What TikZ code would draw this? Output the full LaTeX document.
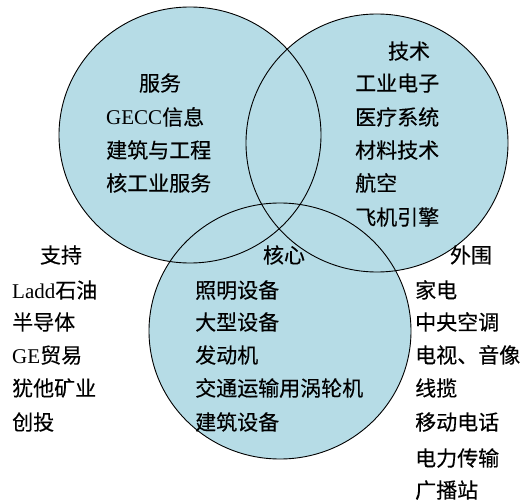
\documentclass[tikz,border=0pt]{standalone}
\usepackage{fontspec}
\setmainfont{Liberation Serif}
\newfontfamily\cjk[FakeBold=0.3]{Noto Sans CJK SC}
\definecolor{vennfill}{RGB}{182,220,230}
\begin{document}
\begin{tikzpicture}[x=1pt,y=-1pt,
  lbl/.style={anchor=base west, inner sep=0pt, font=\cjk\fontsize{21}{21}\selectfont},
  head/.style={anchor=base, inner sep=0pt, font=\cjk\fontsize{21}{21}\selectfont},
  ring/.style={draw=black, line width=0.9pt}]
\useasboundingbox (0,0) rectangle (526,502);
% fills
\fill[vennfill] (190,135) ellipse [x radius=131, y radius=128];
\fill[vennfill] (377,143) ellipse [x radius=131, y radius=129];
\fill[vennfill] (280,331) ellipse [x radius=131, y radius=128];
% outlines
\draw[ring] (190,135) ellipse [x radius=131, y radius=128];
\draw[ring] (377,143) ellipse [x radius=131, y radius=129];
\draw[ring] (280,331) ellipse [x radius=131, y radius=128];
% service
\node[head] (fw) at (160,91) {服务};
\node[lbl] (fw1) at (106,125) {{\rmfamily GECC}信息};
\node[lbl] (fw2) at (106,158) {建筑与工程};
\node[lbl] (fw3) at (106,191) {核工业服务};
% technology
\node[head] (js) at (409,59) {技术};
\node[lbl] (js1) at (355,91) {工业电子};
\node[lbl] (js2) at (355,125) {医疗系统};
\node[lbl] (js3) at (355,158) {材料技术};
\node[lbl] (js4) at (355,191) {航空};
\node[lbl] (js5) at (355,225) {飞机引擎};
% core
\node[head] (hx) at (284,263) {核心};
\node[lbl] (hx1) at (195,298) {照明设备};
\node[lbl] (hx2) at (195,330) {大型设备};
\node[lbl] (hx3) at (195,363) {发动机};
\node[lbl] (hx4) at (195,396) {交通运输用涡轮机};
\node[lbl] (hx5) at (195,430) {建筑设备};
% support
\node[head] (zc) at (61,263) {支持};
\node[lbl] (zc1) at (12,298) {{\rmfamily Ladd}石油};
\node[lbl] (zc2) at (12,330) {半导体};
\node[lbl] (zc3) at (12,363) {{\rmfamily GE}贸易};
\node[lbl] (zc4) at (12,396) {犹他矿业};
\node[lbl] (zc5) at (12,430) {创投};
% periphery
\node[head] (ww) at (471,263) {外围};
\node[lbl] (ww1) at (415,298) {家电};
\node[lbl] (ww2) at (415,330) {中央空调};
\node[lbl] (ww3) at (415,363) {电视、音像};
\node[lbl] (ww4) at (415,396) {线揽};
\node[lbl] (ww5) at (415,430) {移动电话};
\node[lbl] (ww6) at (415,466) {电力传输};
\node[lbl] (ww7) at (415,498) {广播站};
\end{tikzpicture}
\end{document}
